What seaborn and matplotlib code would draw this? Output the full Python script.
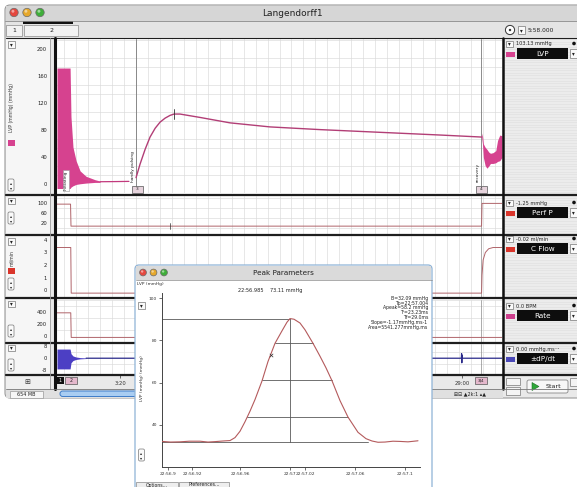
import numpy as np
import pandas as pd
import seaborn as sns
import matplotlib.pyplot as plt
from matplotlib.patches import Rectangle, FancyBboxPatch, Circle, Polygon
from matplotlib.ticker import MultipleLocator

W, H = 577, 487

# ---------------- data: main recording (time in s) ----------------
lvp_band1_t   = [-84, -25, -21, -12, 2, 20, 47, 87, 110]
lvp_band1_top = [172, 172, 100, 55, 35, 20, 12, 7, 5]
lvp_band1_bot = [-6, -6, -4, -2, 0, 1, 2, 3, 3]
lvp_flat_t = [110, 175, 240]
lvp_flat_v = [4, 4.2, 4.5]
lvp_main_t = [272, 290, 313, 335, 358, 380, 403, 425, 443, 470, 560, 695, 875, 1101, 1371, 1641, 1829]
lvp_main_v = [10, 30, 52, 70, 83, 92, 98, 102, 104, 104, 99, 91, 85, 81, 77, 73, 70]
lvp_band2_t   = [1829, 1832, 1836, 1844, 1852, 1860, 1868, 1880, 1892, 1900, 1910, 1920]
lvp_band2_top = [76, 72, 60, 55, 52, 48, 46, 47, 50, 65, 73, 72]
lvp_band2_bot = [68, 60, 40, 28, 24, 27, 31, 31, 32, 34, 35, 40]

perf_t = [-84, -23, -21, 1828, 1830, 1920]
perf_v = [97, 97, 8, 8, 100, 100]
cflow_t = [-84, -22, -20, 1828, 1830, 1835, 1845, 1860, 1880, 1920]
cflow_v = [3.4, 3.4, -0.25, -0.25, 1.2, 2.4, 3.0, 3.3, 3.4, 3.4]
rate_t = [-84, -22, -20, 1920]
rate_v = [390, 390, -20, -20]
dpdt_band_t   = [-84, -25, -21, -12, 2, 20, 47]
dpdt_band_top = [6, 6, 3, 1.5, 0.8, 0.4, 0.2]
dpdt_band_bot = [-7, -7, -3, -1.5, -0.8, -0.4, -0.2]
dpdt_line_t = [47, 1737, 1738, 1739, 1740, 1741, 1920]
dpdt_line_v = [0, 0, 3, -3, 2, 0, 0]

marker_lines_t = [272, 1826]
marker_labels = ["Initiating", "hardly pulsing", "recovery"]
marker_label_t = [-44, 258, 1812]
time_ticks = [200, 1740]
time_labels = ["3:20", "29:00"]

channel_names = ["LVP", "Perf P", "C Flow", "Rate", "±dP/dt"]
channel_readouts = ["103.13 mmHg", "-1.25 mmHg", "-0.02 ml/min", "0.0 BPM", "0.00 mmHg.ms⁻¹"]
channel_colors = ["#d6428f", "#d9352b", "#d9352b", "#cc3f8c", "#4a48b8"]
lvp_ticks = [0, 40, 80, 120, 160, 200]
perf_ticks = [20, 60, 100]
cflow_ticks = [0, 1, 2, 3, 4]
rate_ticks = [0, 200, 400]
dpdt_ticks = [-8, 0, 8]

# ---------------- data: peak parameters window (ms after 22:56.9) ----------------
peak_t = [-4.8, 2, 9.6, 17, 25.6, 32, 37.6, 44, 49.6, 53.6, 57.6, 61.6, 65.6, 69.6, 75.2, 80,
          85.6, 91.2, 95.2, 97.6, 100.8, 105.6, 109.6, 116, 121.6, 126.4, 131.2, 137.6, 144,
          152, 158.4, 163.2, 168, 173.6, 180, 185.6, 192, 200]
peak_v = [32.2, 31.9, 32.0, 32.3, 32.3, 31.9, 32.1, 32.4, 32.6, 34.0, 37.0, 41.5, 46.5, 52.0, 60.8, 70.0,
          78.6, 84.5, 88.6, 90.3, 90.0, 88.2, 85.0, 78.6, 72.5, 67.0, 60.9, 51.5, 43.7,
          36.5, 33.5, 32.4, 31.8, 31.9, 32.3, 32.2, 32.0, 32.5]
level_v  = [90.29, 78.65, 61.19, 43.73, 32.09]
level_t0 = [-4.8, 85.6, 75.2, 63.2, -4.8]
level_t1 = [97.6, 116.0, 131.2, 144.0, 160.0]
peak_time = 97.6
cursor_t, cursor_v = [82], [73.11]
pk_xticks = [0, 19.2, 57.6, 97.6, 109.6, 149.6, 189.6]
pk_xlabels = ["22:56.9", "22:56.92", "22:56.96", "22:57", "22:57.02", "22:57.06", "22:57.1"]
pk_yticks = [40, 60, 80, 100]
pk_stats = ["B=32.09 mmHg", "Tp=22:57.004", "Apeak=58.2 mmHg", "Tr=23.23ms", "Tf=29.0ms",
            "Slope=-1.17mmHg.ms-1", "Area=5541.277mmHg.ms"]
pk_header = "22:56.985    73.11 mmHg"

# ---------------- figure ----------------
sns.set_theme(style="white")
plt.rcParams['font.family'] = ['DejaVu Sans']
fig = plt.figure(figsize=(W / 100, H / 100), dpi=100)
fig.patch.set_facecolor('white')


def overlay(z):
    a = fig.add_axes([0, 0, 1, 1], zorder=z)
    a.set_xlim(0, W)
    a.set_ylim(H, 0)
    a.axis('off')
    return a


def axes_px(x0, y0, x1, y1, z):
    return fig.add_axes([x0 / W, 1 - y1 / H, (x1 - x0) / W, (y1 - y0) / H], zorder=z)


def traffic(a, xs, y, r):
    for x, c in zip(xs, ['#e5483f', '#e6a82b', '#3fae3a']):
        a.add_patch(Circle((x, y), r, fc=c, ec='#6a6a6a', lw=0.5))
        a.add_patch(Circle((x - r * 0.25, y - r * 0.3), r * 0.35, fc='white', ec='none', alpha=0.5))


def dropdown(a, x, y, w=7, h=7):
    a.add_patch(Rectangle((x, y), w, h, fc='#fafafa', ec='#777', lw=0.5))
    a.text(x + w / 2, y + h / 2 + 0.3, '▾', fontsize=4, ha='center', va='center', color='#222')


def zoombtn(a, x, y, w=6, h=12):
    a.add_patch(FancyBboxPatch((x, y), w, h, boxstyle="round,pad=0,rounding_size=1.5",
                               fc='#fafafa', ec='#777', lw=0.5))
    a.text(x + w / 2, y + h * 0.3, '▴', fontsize=3, ha='center', va='center', color='#222')
    a.text(x + w / 2, y + h * 0.72, '▾', fontsize=3, ha='center', va='center', color='#222')


bg = overlay(0)
# main window frame
bg.add_patch(FancyBboxPatch((5, 5), 580, 393, boxstyle="round,pad=0,rounding_size=5",
                            fc='#e9e9e9', ec='#9a9a9a', lw=0.8))
bg.add_patch(Rectangle((5.5, 5.5), 572, 15, fc='#d6d6d6', ec='none'))
bg.plot([5, 577], [20.5, 20.5], color='#8a8a8a', lw=0.6)
traffic(bg, [14, 27, 40], 12.5, 4.2)
bg.text(292, 13, 'Langendorff1', fontsize=6.5, ha='center', va='center', color='#222')
# tab bar
bg.add_patch(Rectangle((5.5, 21), 572, 16, fc='#e4e4e4', ec='none'))
bg.add_patch(Rectangle((6, 24.5), 16, 11, fc='#f2f2f2', ec='#8a8a8a', lw=0.5))
bg.text(14, 30, '1', fontsize=4.5, ha='center', va='center', color='#222')
bg.add_patch(Rectangle((24, 24.5), 54, 11, fc='#f2f2f2', ec='#8a8a8a', lw=0.5))
bg.text(51, 30, '2', fontsize=4.5, ha='center', va='center', color='#222')
bg.add_patch(Rectangle((23, 21), 50, 2.5, fc='#111', ec='none'))
bg.add_patch(Circle((510, 30), 4.6, fc='white', ec='#333', lw=0.7))
bg.add_patch(Circle((510, 30), 1.2, fc='#333', ec='none'))
dropdown(bg, 518, 26, 7, 8)
bg.text(528, 30, '5:58.000', fontsize=4.2, ha='left', va='center', color='#222')
# left column and plot background
bg.add_patch(Rectangle((5.5, 38), 45, 351, fc='#f6f6f6', ec='none'))
bg.add_patch(Rectangle((57, 38), 445, 337, fc='white', ec='none'))
# right panel with stripes
bg.add_patch(Rectangle((503, 38), 74, 351, fc='#ececec', ec='none'))
for yy in np.arange(39, 375, 2.6):
    bg.plot([503, 577], [yy, yy], color='#dedede', lw=0.4)

# ---------------- channel axes ----------------
X0, X1 = 57, 502
XLIM = (-84, 1920)
panels = [
    # (top, bottom, ylim, ticks, grid_step)
    (39, 193.5, (-13.4, 214.9), lvp_ticks, 200 / 15),
    (196, 233.5, (-21.8, 129.9), perf_ticks, 40),
    (236, 297, (-0.56, 4.32), cflow_ticks, 1),
    (299.5, 341.5, (-88, 612), rate_ticks, 100),
    (344, 374.5, (-10.67, 9.33), dpdt_ticks, 4),
]
axs = []
for top, bot, ylim, ticks, gstep in panels:
    ax = axes_px(X0, top, X1, bot, 2)
    ax.set_facecolor('white')
    ax.set_xlim(*XLIM)
    ax.set_ylim(*ylim)
    ax.set_yticks(ticks)
    ax.set_yticklabels([str(t) for t in ticks])
    ax.set_xticks([])
    ax.xaxis.set_minor_locator(MultipleLocator(54))
    ax.yaxis.set_minor_locator(MultipleLocator(gstep))
    ax.grid(which='minor', color='#d9d9d9', lw=0.45)
    ax.grid(which='major', visible=False)
    ax.tick_params(axis='y', which='major', labelsize=3.8, length=0, pad=7, colors='#222')
    ax.tick_params(which='minor', length=0)
    for s in ax.spines.values():
        s.set_visible(False)
    axs.append(ax)

ax_lvp, ax_perf, ax_cf, ax_rate, ax_dp = axs
pink = '#d6428f'
trace = '#b0646a'

# LVP
ax_lvp.fill_between(lvp_band1_t, lvp_band1_bot, lvp_band1_top, color=pink, lw=0, zorder=3)
sns.lineplot(x=lvp_flat_t, y=lvp_flat_v, ax=ax_lvp, color='#c23a7d', lw=0.9, sort=False, estimator=None, zorder=3)
sns.lineplot(x=lvp_main_t, y=lvp_main_v, ax=ax_lvp, color='#b23e76', lw=1.0, sort=False, estimator=None, zorder=3)
ax_lvp.fill_between(lvp_band2_t, lvp_band2_bot, lvp_band2_top, color=pink, lw=0, zorder=3)
ax_lvp.plot([443, 443], [97, 112], color='#333', lw=0.6, zorder=4)
for mt in marker_lines_t:
    ax_lvp.axvline(mt, color='#7a7a7a', lw=0.6, zorder=2)
for mt in marker_lines_t[1:]:
    for a in axs[1:]:
        a.axvline(mt, color='#8a8a8a', lw=0.5, zorder=2)
ax_lvp.text(marker_label_t[0], -8, marker_labels[0], rotation=90, fontsize=3.2, ha='center', va='bottom',
            color='#222', zorder=5, bbox=dict(fc='white', ec='#999', lw=0.4, pad=0.6))
ax_lvp.text(marker_label_t[1], 4, marker_labels[1], rotation=90, fontsize=3.2, ha='center', va='bottom',
            color='#222', zorder=5)
ax_lvp.text(marker_label_t[2], 4, marker_labels[2], rotation=90, fontsize=3.2, ha='center', va='bottom',
            color='#222', zorder=5)

# other channels
sns.lineplot(x=perf_t, y=perf_v, ax=ax_perf, color=trace, lw=0.7, sort=False, estimator=None, zorder=3)
ax_perf.plot([425, 425], [-2, 22], color='#333', lw=0.5, zorder=4)
sns.lineplot(x=cflow_t, y=cflow_v, ax=ax_cf, color=trace, lw=0.7, sort=False, estimator=None, zorder=3)
sns.lineplot(x=rate_t, y=rate_v, ax=ax_rate, color=trace, lw=0.7, sort=False, estimator=None, zorder=3)
ax_dp.fill_between(dpdt_band_t, dpdt_band_bot, dpdt_band_top, color='#4c3fc4', lw=0, zorder=3)
sns.lineplot(x=dpdt_line_t, y=dpdt_line_v, ax=ax_dp, color='#2a2a8a', lw=0.9, sort=False, estimator=None, zorder=3)
ax_dp.set_xticks(time_ticks)
ax_dp.set_xticklabels(time_labels)
ax_dp.tick_params(axis='x', which='major', labelsize=3.8, length=2, width=0.5, pad=2.5,
                  direction='out', colors='#333', bottom=True)
for a in axs:
    a.set_xlabel('')
    a.set_ylabel('')

# ---------------- foreground chrome (separators, labels) ----------------
fg = overlay(3)
for yy in [38, 194.8, 234.8, 298.3, 342.8, 375.2]:
    fg.plot([5.5, 577], [yy, yy], color='#1e1e1e', lw=1.6 if yy > 38 else 0.8)
fg.plot([50, 50], [38, 389], color='#9a9a9a', lw=0.6)
fg.plot([55, 55], [38, 389], color='#111', lw=2.2)
fg.plot([502.5, 502.5], [38, 389], color='#111', lw=1.8)
fg.plot([5.5, 577], [389, 389], color='#777', lw=0.6)

left_tops = [41, 197.5, 238, 300.5, 344.5]
left_zoom = [179, 212, 278, 325, 359]
for t, z in zip(left_tops, left_zoom):
    dropdown(fg, 8, t, 6.5, 6.5)
    zoombtn(fg, 8, z, 6, 12)
fg.text(12, 108, 'LVP (mmHg) (mmHg)', rotation=90, fontsize=3.3, ha='center', va='center', color='#333')
fg.add_patch(Rectangle((7.5, 140), 7, 6, fc=channel_colors[0], ec='none'))
fg.text(12, 258, 'ml/min', rotation=90, fontsize=3.3, ha='center', va='center', color='#333')
fg.add_patch(Rectangle((7.5, 268), 7, 6, fc=channel_colors[1], ec='none'))

for x0, lab in [(131.5, '3'), (475.5, '4')]:
    fg.add_patch(Rectangle((x0, 186), 11, 6.5, fc='#e6d3dc', ec='#555', lw=0.5))
    fg.text(x0 + 5.5, 189.3, lab, fontsize=3.2, ha='center', va='center', color='#222')

right_tops = [40, 199, 235, 302, 345]
for t, name, rd, col in zip(right_tops, channel_names, channel_readouts, channel_colors):
    dropdown(fg, 506, t + 0.5, 6.5, 6.5)
    fg.text(516.5, t + 4, rd, fontsize=3.6, ha='left', va='center', color='#222')
    fg.add_patch(Circle((574, t + 3.5), 1.8, fc='#111', ec='none'))
    fg.add_patch(Rectangle((506, t + 11.5), 9, 5, fc=col, ec='none'))
    fg.add_patch(Rectangle((517, t + 8), 51, 11, fc='#0d0d0d', ec='none'))
    fg.text(542.5, t + 13.6, name, fontsize=5.2, ha='center', va='center', color='white')
    dropdown(fg, 569.5, t + 9, 7, 9)

fg.add_patch(Rectangle((5.5, 375.8), 44.5, 13, fc='#f0f0f0', ec='none'))
fg.text(27, 382, '⊞', fontsize=5, ha='center', va='center', color='#333')
fg.add_patch(Rectangle((56, 377), 8, 7, fc='#111', ec='none'))
fg.text(60, 380.5, '1', fontsize=3.3, ha='center', va='center', color='white')
fg.add_patch(Rectangle((65, 377), 12, 7, fc='#e4b8cc', ec='#555', lw=0.5))
fg.text(71, 380.5, '2', fontsize=3.3, ha='center', va='center', color='#222')
fg.add_patch(Rectangle((475, 377), 12, 7, fc='#e4b8cc', ec='#555', lw=0.5))
fg.text(481, 380.5, '3|4', fontsize=3.0, ha='center', va='center', color='#222')

fg.add_patch(Rectangle((5.5, 389.3), 497, 9, fc='#e0e0e0', ec='none'))
fg.add_patch(Rectangle((10, 390.5), 33, 7, fc='#f6f6f6', ec='#999', lw=0.5))
fg.text(26.5, 394, '654 MB', fontsize=3.5, ha='center', va='center', color='#222')
fg.add_patch(FancyBboxPatch((60, 391), 150, 5.5, boxstyle="round,pad=0,rounding_size=2.7",
                            fc='#a9cdf2', ec='#3d7cc9', lw=0.7))
fg.text(470, 394, '⊞⊟ ▲2k:1 ▴▲', fontsize=3.5, ha='center', va='center', color='#222')

fg.add_patch(Rectangle((506, 378), 14, 7, fc='#f4f4f4', ec='#777', lw=0.5))
fg.add_patch(Rectangle((506, 387), 14, 8, fc='#f4f4f4', ec='#777', lw=0.5))
fg.add_patch(FancyBboxPatch((527, 380), 41, 13, boxstyle="round,pad=0,rounding_size=2",
                            fc='#f7f7f7', ec='#888', lw=0.6))
fg.add_patch(Polygon([(532, 382.5), (532, 390.5), (539, 386.5)], closed=True, fc='#2fa83a', ec='#1d6d24', lw=0.4))
fg.text(553, 386.7, 'Start', fontsize=4.6, ha='center', va='center', color='#222')
fg.add_patch(Rectangle((570, 378), 7, 8, fc='#f4f4f4', ec='#777', lw=0.5))

# ---------------- peak parameters window ----------------
pw = overlay(5)
pw.add_patch(FancyBboxPatch((135, 265), 297, 235, boxstyle="round,pad=0,rounding_size=4",
                            fc='white', ec='#8fb3d6', lw=0.9))
pw.add_patch(Rectangle((135.6, 265.6), 295.8, 14, fc='#dadada', ec='none'))
pw.plot([135.5, 431.5], [279.8, 279.8], color='#8a8a8a', lw=0.5)
traffic(pw, [143, 153.5, 164], 272.5, 3.4)
pw.text(283, 272.8, 'Peak Parameters', fontsize=5.2, ha='center', va='center', color='#222')
pw.text(137, 284.3, 'LVP (mmHg)', fontsize=3.2, ha='left', va='center', color='#333')
pw.text(270, 290.8, pk_header, fontsize=3.6, ha='center', va='center', color='#222')
dropdown(pw, 138, 302, 7, 7)
pw.text(141.5, 378, 'LVP (mmHg) (mmHg)', rotation=90, fontsize=3.2, ha='center', va='center', color='#333')
zoombtn(pw, 138.5, 449, 6, 12)
pw.add_patch(Rectangle((135.5, 481.5), 42, 7, fc='#eeeeee', ec='#888', lw=0.5))
pw.text(156.5, 485, 'Options...', fontsize=3.3, ha='center', va='center', color='#222')
pw.add_patch(Rectangle((179, 481.5), 50, 7, fc='#eeeeee', ec='#888', lw=0.5))
pw.text(204, 485, 'Preferences...', fontsize=3.3, ha='center', va='center', color='#222')

pax = axes_px(162, 293, 420, 467, 6)
pax.patch.set_alpha(0)
pax.set_xlim(-4.8, 201.6)
pax.set_ylim(20.1, 102.4)
for lv, t0, t1 in zip(level_v, level_t0, level_t1):
    pax.plot([t0, t1], [lv, lv], color='#595959', lw=0.6, zorder=2)
pax.plot([peak_time, peak_time], [level_v[-1], level_v[0]], color='#595959', lw=0.6, zorder=2)
sns.lineplot(x=peak_t, y=peak_v, ax=pax, color='#b45a5c', lw=0.8, sort=False, estimator=None, zorder=3)
sns.scatterplot(x=cursor_t, y=cursor_v, ax=pax, marker='x', s=6, color='#333', linewidth=0.5, zorder=4)
pax.set_xticks(pk_xticks)
pax.set_xticklabels(pk_xlabels)
pax.set_yticks(pk_yticks)
pax.set_yticklabels([str(v) for v in pk_yticks])
pax.tick_params(labelsize=3.2, length=2, width=0.5, pad=1.5, colors='#333', direction='out',
                bottom=True, left=True)
for side in ['top', 'right']:
    pax.spines[side].set_visible(False)
for side in ['left', 'bottom']:
    pax.spines[side].set_color('#444')
    pax.spines[side].set_linewidth(0.7)
pax.set_xlabel('')
pax.set_ylabel('')

# stats block drawn above the plot axes
pst = overlay(7)
for i, s in enumerate(pk_stats):
    pst.text(428, 298.3 + i * 4.8, s, fontsize=3.3, ha='right', va='center', color='#222')

fig.savefig('out.png', dpi=100, facecolor='white')
